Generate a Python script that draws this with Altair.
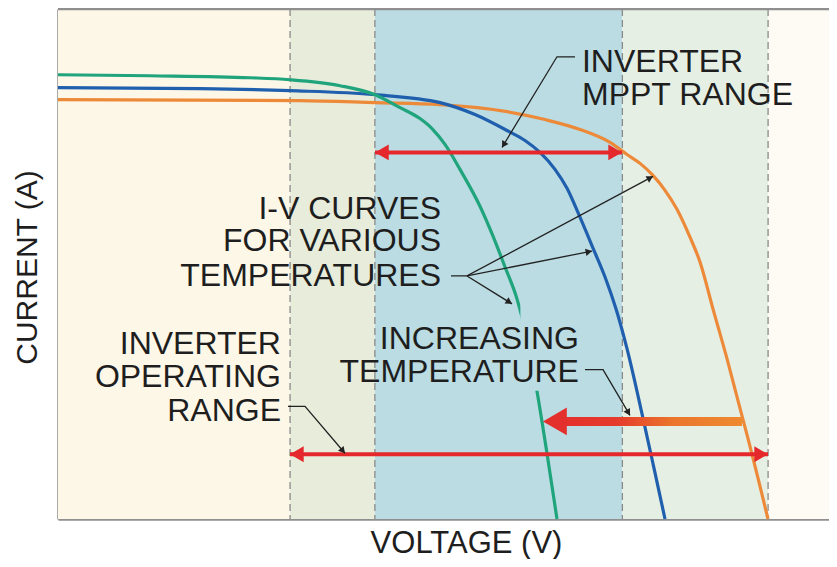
import math
import altair as alt
import pandas as pd

# ---------------- data (arbitrary units: voltage 0-100, current 0-100) ----------------
band_start = [0.0, 30.1, 41.1, 73.2, 92.1]
band_end = [30.1, 41.1, 73.2, 92.1, 100.0]
band_fill = ["#fdf7e8", "#e8eddb", "#badce2", "#e6efe4", "#fefbf4"]
divider_v = [30.1, 41.1, 73.2, 92.1]

orange_v = [0, 31.39, 41.12, 49.55, 58.24, 63.16, 67.70, 71.60, 73.80, 75.49, 77.17, 78.73, 80.28, 81.97,
            83.27, 84.95, 86.77, 88.46, 89.49, 90.79, 92.09]
orange_i = [82.23, 82.03, 81.64, 81.25, 79.88, 78.32, 76.37, 73.83, 71.48, 69.73, 67.38, 64.45, 60.74, 55.27,
            50.39, 41.21, 31.45, 21.68, 15.82, 8.01, 0]

blue_v = [0, 18.42, 30.09, 41.12, 49.55, 54.09, 58.24, 60.57, 62.52, 64.46, 66.02, 67.70, 69.39, 70.95,
          72.37, 73.80, 75.88, 77.30, 78.73]
blue_i = [84.57, 84.38, 83.98, 83.20, 81.64, 79.30, 76.17, 74.22, 71.88, 68.55, 64.84, 59.18, 53.13, 47.46,
          41.21, 33.40, 19.73, 9.96, 0]

green_v = [0, 11.93, 24.90, 30.09, 36.58, 41.12, 44.36, 46.95, 48.51, 50.19, 52.14, 54.73, 56.42, 57.98,
           59.53, 60.83, 62.13, 63.42, 64.72]
green_i = [87.11, 86.91, 86.52, 86.13, 84.96, 83.20, 80.66, 78.52, 76.56, 73.44, 68.55, 61.33, 55.47, 49.41,
           43.16, 35.35, 25.00, 12.89, 0]

# double-headed range arrows
range_name = ["mppt", "operating"]
range_lo = [41.12, 30.09]
range_hi = [73.15, 92.09]
range_i = [71.88, 12.70]

# "increasing temperature" arrow
temp_from = 88.72
temp_to = 62.90
temp_i = 19.14

# leader lines (polylines, arrowhead at the last point)
leaders = {
    "mppt": [(67.06, 90.63), (64.72, 90.63), (57.59, 72.85)],
    "iv_orange": [(50.97, 47.66), (53.05, 47.66), (77.17, 67.18)],
    "iv_blue": [(53.05, 47.66), (69.26, 52.54)],
    "iv_green": [(53.05, 47.66), (58.88, 42.19)],
    "temp": [(68.35, 29.30), (70.69, 29.30), (74.19, 20.31)],
    "oper": [(29.83, 22.07), (32.04, 22.07), (37.22, 12.89)],
}

# text annotations
label_text = ["INVERTER", "MPPT RANGE",
              "I-V CURVES", "FOR VARIOUS", "TEMPERATURES",
              "INVERTER", "OPERATING", "RANGE",
              "INCREASING", "TEMPERATURE"]
label_v = [67.96, 67.96, 49.68, 49.68, 49.68, 28.92, 28.92, 28.92, 67.57, 67.57]
label_i = [87.70, 81.25, 58.79, 52.54, 45.70, 32.42, 25.98, 19.14, 33.40, 26.95]
label_align = ["left", "left", "right", "right", "right", "right", "right", "right", "right", "right"]

# ---------------- layout ----------------
W, H = 771, 510
PX_V = W / 100.0
PX_I = H / 100.0
FONT = "Liberation Sans"
TXT = "#1e1e1e"

xs = alt.Scale(domain=[0, 100], nice=False, zero=False)
ys = alt.Scale(domain=[0, 100], nice=False, zero=False)

bands = pd.DataFrame({"v0": band_start, "v1": band_end, "fill": band_fill})
band_layer = alt.Chart(bands).mark_rect().encode(
    x=alt.X("v0:Q", scale=xs, axis=alt.Axis(title="VOLTAGE (V)", labels=False, ticks=False, grid=False,
                                          domain=True, domainColor="#8f8f8f", domainWidth=2.5,
                                          titleFont=FONT, titleFontSize=31, titleFontWeight="normal",
                                          titleColor=TXT, titleX=408, titleY=33,
                                          titleBaseline="alphabetic", titleAlign="center")),
    x2="v1:Q",
    y=alt.Y("lo:Q", scale=ys, axis=alt.Axis(title="CURRENT (A)", labels=False, ticks=False, grid=False,
                                          domain=True, domainColor="#8f8f8f", domainWidth=2.5,
                                          titleFont=FONT, titleFontSize=30, titleFontWeight="normal",
                                          titleColor=TXT, titleX=-22, titleY=258, titleAngle=270,
                                          titleBaseline="alphabetic", titleAlign="center")),
    y2="hi:Q",
    color=alt.Color("fill:N", scale=None),
).transform_calculate(lo="0", hi="100")

div_layer = alt.Chart(pd.DataFrame({"v": divider_v})).mark_rule(
    color="#8a8a8a", strokeWidth=1.3, strokeDash=[7, 4]
).encode(x=alt.X("v:Q", scale=xs))

top_rule = alt.Chart(pd.DataFrame({"i": [100]})).mark_rule(
    color="#8f8f8f", strokeWidth=2.5
).encode(y=alt.Y("i:Q", scale=ys))

curve_rows = []
for name, vv, ii in [("orange", orange_v, orange_i), ("blue", blue_v, blue_i), ("green", green_v, green_i)]:
    for k, (v, i) in enumerate(zip(vv, ii)):
        curve_rows.append({"curve": name, "v": v, "i": i, "k": k})
curves = pd.DataFrame(curve_rows)
curve_layer = alt.Chart(curves).mark_line(interpolate="monotone", strokeWidth=3.2).encode(
    x=alt.X("v:Q", scale=xs),
    y=alt.Y("i:Q", scale=ys),
    color=alt.Color("curve:N", scale=alt.Scale(domain=["orange", "blue", "green"],
                                               range=["#ec8a3a", "#1f5fae", "#1fa47c"]), legend=None),
    order="k:Q",
)

# backdrop behind the "INCREASING TEMPERATURE" label (hides the curve there)
backdrop = pd.DataFrame({"v0": [label_v[8] - 7.6], "v1": [label_v[8] - 0.9],
                         "i0": [label_i[9] - 1.8], "i1": [label_i[8] + 8.6]})
backdrop_layer = alt.Chart(backdrop).mark_rect(color="#badce2").encode(
    x=alt.X("v0:Q", scale=xs), x2="v1:Q", y=alt.Y("i0:Q", scale=ys), y2="i1:Q")

RED = "#e5282c"
ranges = pd.DataFrame({"name": range_name, "lo": range_lo, "hi": range_hi, "i": range_i})
range_layer = alt.Chart(ranges).mark_rule(color=RED, strokeWidth=4).encode(
    x=alt.X("lo:Q", scale=xs), x2="hi:Q", y=alt.Y("i:Q", scale=ys))

HEAD = 250
hoff = 0.433 * math.sqrt(HEAD) / PX_V
heads = pd.DataFrame({
    "v": [lo + hoff for lo in range_lo] + [hi - hoff for hi in range_hi],
    "i": range_i + range_i,
    "shape": ["triangle-left"] * len(range_lo) + ["triangle-right"] * len(range_hi),
})
head_layer = alt.Chart(heads).mark_point(filled=True, opacity=1, color=RED, size=HEAD, strokeWidth=0).encode(
    x=alt.X("v:Q", scale=xs), y=alt.Y("i:Q", scale=ys), shape=alt.Shape("shape:N", scale=None))

TEMP_HEAD = 760
th = 0.433 * math.sqrt(TEMP_HEAD)
temp_df = pd.DataFrame({"v0": [temp_to + (th * 1.6) / PX_V], "v1": [temp_from],
                        "i0": [temp_i - 4.5 / PX_I], "i1": [temp_i + 4.5 / PX_I]})
grad = alt.LinearGradient(gradient="linear", x1=0, x2=1, y1=0, y2=0, stops=[
    alt.GradientStop(color="#e4302c", offset=0),
    alt.GradientStop(color="#e53a2b", offset=0.3),
    alt.GradientStop(color="#eb762c", offset=0.62),
    alt.GradientStop(color="#ee8a30", offset=1),
])
temp_layer = alt.Chart(temp_df).mark_rect(color=grad).encode(
    x=alt.X("v0:Q", scale=xs), x2="v1:Q", y=alt.Y("i0:Q", scale=ys), y2="i1:Q")
temp_head = alt.Chart(pd.DataFrame({"v": [temp_to + th / PX_V], "i": [temp_i]})).mark_point(
    filled=True, opacity=1, color="#e4302c", size=TEMP_HEAD, shape="triangle-left", strokeWidth=0
).encode(x=alt.X("v:Q", scale=xs), y=alt.Y("i:Q", scale=ys))

# leaders
lrows, lheads = [], []
LH = 55
for name, pts in leaders.items():
    for k, (v, i) in enumerate(pts):
        lrows.append({"leader": name, "k": k, "v": v, "i": i})
    (v1, i1), (v2, i2) = pts[-2], pts[-1]
    dx = (v2 - v1) * PX_V
    dy = -(i2 - i1) * PX_I
    ang = (math.degrees(math.atan2(dx, -dy)) + 360) % 360
    L = math.hypot(dx, dy)
    back = 0.43 * math.sqrt(LH)
    lheads.append({"v": v2 - dx / L * back / PX_V, "i": i2 + dy / L * back / PX_I, "ang": ang})
leader_layer = alt.Chart(pd.DataFrame(lrows)).mark_line(color="#222222", strokeWidth=1.3).encode(
    x=alt.X("v:Q", scale=xs), y=alt.Y("i:Q", scale=ys), detail="leader:N", order="k:Q")
lhead_layer = alt.Chart(pd.DataFrame(lheads)).mark_point(
    filled=True, opacity=1, color="#222222", shape="triangle-up", size=LH, strokeWidth=0
).encode(x=alt.X("v:Q", scale=xs), y=alt.Y("i:Q", scale=ys), angle=alt.Angle("ang:Q", scale=None))

labels = pd.DataFrame({"t": label_text, "v": label_v, "i": label_i, "a": label_align})
text_layers = []
for al in ["left", "right"]:
    text_layers.append(
        alt.Chart(labels[labels["a"] == al]).mark_text(
            align=al, baseline="alphabetic", font=FONT, fontSize=32, color=TXT
        ).encode(x=alt.X("v:Q", scale=xs), y=alt.Y("i:Q", scale=ys), text="t:N")
    )

chart = alt.layer(
    band_layer, div_layer, curve_layer, backdrop_layer, range_layer, head_layer,
    temp_layer, temp_head, leader_layer, lhead_layer, *text_layers, top_rule
).properties(
    width=W, height=H,
    autosize=alt.AutoSizeParams(type="none"),
    padding={"left": 50, "top": 1, "right": 0, "bottom": 40},
).configure_view(stroke=None).configure(background="white")

chart.save("out.html", embed_options={"renderer": "svg", "actions": False})
